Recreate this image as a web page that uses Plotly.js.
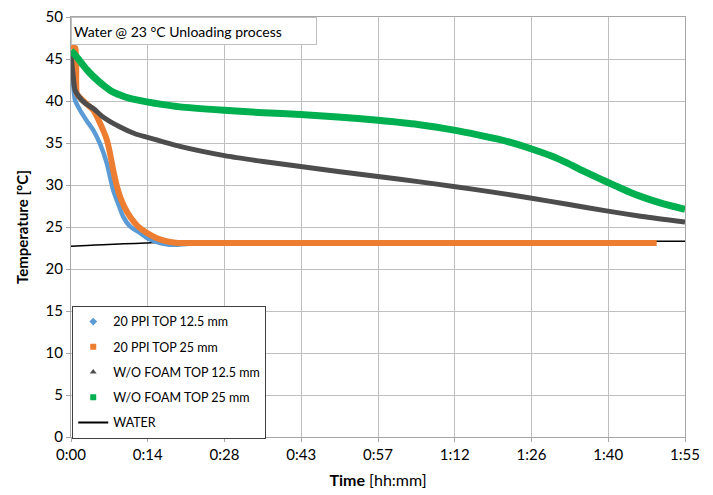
<!DOCTYPE html>
<html><head><meta charset="utf-8">
<script src="https://cdn.plot.ly/plotly-3.0.1.min.js"></script>
<style>html,body{margin:0;padding:0;background:#fff}#chart{width:713px;height:495px}</style>
</head><body><div id="chart"></div>
<script>
// Time in minutes, temperature in °C
const blueT = [0, 0.3, 0.75, 1.7, 3, 4.2, 5.5, 6.7, 7.9, 9, 9.8, 11, 12.9, 14.5, 16.7, 18.5, 20, 22, 25];
const blueY = [46, 43, 40.1, 38.9, 37.6, 36.5, 34.8, 32.6, 29.4, 27.5, 26.2, 25.1, 24.3, 23.6, 23.1, 22.9, 22.9, 23.0, 23.0];

const orangeT = [0, 0.8, 1.1, 2, 3, 4.2, 5.4, 6.7, 7.3, 7.9, 8.5, 9.2, 10, 11.1, 12.5, 14.2, 16, 17.9, 20, 25, 40, 60, 80, 100, 109.7];
const orangeY = [46.5, 46.3, 40.9, 40.2, 39.6, 38.9, 37.4, 35.4, 33.8, 31.8, 30.1, 28.6, 27.4, 26.2, 25.1, 24.3, 23.7, 23.3, 23.1, 23.1, 23.1, 23.1, 23.1, 23.1, 23.1];

const grayT = [0, 0.4, 0.75, 1.5, 2.5, 4.2, 6, 9.2, 12, 14.2, 20.4, 28.75, 36, 43, 50, 57.5, 65, 72, 79, 86, 93, 100, 107, 115];
const grayY = [45.5, 43, 41.3, 40.5, 39.8, 39.1, 38.1, 36.9, 36.1, 35.7, 34.6, 33.5, 32.8, 32.2, 31.6, 31.0, 30.4, 29.8, 29.15, 28.45, 27.7, 26.95, 26.25, 25.6];

const greenT = [0, 1, 2, 3, 4.2, 6, 7.5, 9.2, 11, 14.2, 17, 20.4, 28.75, 36, 43, 50, 57.5, 65, 72, 76, 80, 83, 86, 90, 93, 96, 99, 102, 105, 108, 111, 115];
const greenY = [46, 45.3, 44.5, 43.7, 42.9, 41.9, 41.2, 40.7, 40.3, 39.9, 39.6, 39.3, 38.9, 38.6, 38.4, 38.1, 37.7, 37.2, 36.5, 36.0, 35.45, 34.95, 34.35, 33.45, 32.6, 31.65, 30.75, 29.9, 29.05, 28.35, 27.75, 27.1];

const waterT = [0, 3, 6, 10, 14, 18, 20, 30, 50, 70, 90, 115];
const waterY = [22.7, 22.8, 22.9, 23.0, 23.1, 23.2, 23.2, 23.2, 23.3, 23.3, 23.3, 23.3];

const tickVals = [0, 14.375, 28.75, 43.125, 57.5, 71.875, 86.25, 100.625, 115];
const tickText = ["0:00", "0:14", "0:28", "0:43", "0:57", "1:12", "1:26", "1:40", "1:55"];

const seriesNames = ["20 PPI TOP 12.5 mm", "20 PPI TOP 25 mm", "W/O FOAM TOP 12.5 mm", "W/O FOAM TOP 25 mm", "WATER"];

const C = {blue:"#5b9bd5", orange:"#ed7d31", gray:"#4d4d4d", green:"#00b050", water:"#000000"};
const SM = 0.6;

const data = [
  {x: waterT, y: waterY, mode:"lines", line:{color:C.water, width:1.5, shape:"spline", smoothing:SM}, showlegend:false},
  {x: blueT, y: blueY, mode:"lines", line:{color:C.blue, width:4.5, shape:"spline", smoothing:SM}, showlegend:false},
  {x: orangeT, y: orangeY, mode:"lines", line:{color:C.orange, width:6, shape:"spline", smoothing:SM}, showlegend:false},
  {x: grayT, y: grayY, mode:"lines", line:{color:C.gray, width:5, shape:"spline", smoothing:SM}, showlegend:false},
  {x: greenT, y: greenY, mode:"lines", line:{color:C.green, width:7, shape:"spline", smoothing:SM}, showlegend:false},
  // legend entries
  {x:[null], y:[null], name:seriesNames[0], mode:"markers", marker:{symbol:"diamond", size:6, color:C.blue}, legendgroup:"a"},
  {x:[null], y:[null], name:seriesNames[1], mode:"markers", marker:{symbol:"square", size:6, color:C.orange}, legendgroup:"b"},
  {x:[null], y:[null], name:seriesNames[2], mode:"markers", marker:{symbol:"triangle-up", size:6, color:C.gray}, legendgroup:"c"},
  {x:[null], y:[null], name:seriesNames[3], mode:"markers", marker:{symbol:"square", size:6, color:C.green}, legendgroup:"d"},
  {x:[null], y:[null], name:seriesNames[4], mode:"lines", line:{color:C.water, width:2}, legendgroup:"e"}
];

const font = {family:"Lato, 'Open Sans', sans-serif", color:"#000"};

const layout = {
  width:713, height:495,
  margin:{l:71, r:28, t:17, b:58, pad:0},
  paper_bgcolor:"#fff", plot_bgcolor:"#fff",
  font: Object.assign({size:14}, font),
  showlegend:true,
  legend:{x:0.002, y:0.312, xanchor:"left", yanchor:"top", bgcolor:"#fff",
    bordercolor:"#404040", borderwidth:1, font:Object.assign({size:12.5}, font),
    tracegroupgap:6, itemwidth:30},
  xaxis:{range:[0,115], tickvals:tickVals, ticktext:tickText, showgrid:true, gridcolor:"#bfbfbf", gridwidth:1,
    showline:true, linecolor:"#a6a6a6", linewidth:1, mirror:true, ticks:"outside", ticklen:4, tickcolor:"#a6a6a6",
    zeroline:false, tickfont:Object.assign({size:15}, font),
    title:{text:"<b>Time</b> [hh:mm]", font:Object.assign({size:16}, font), standoff:12}},
  yaxis:{range:[0,50], dtick:5, showgrid:true, gridcolor:"#bfbfbf", gridwidth:1,
    showline:true, linecolor:"#a6a6a6", linewidth:1, mirror:true, ticks:"outside", ticklen:4, tickcolor:"#a6a6a6",
    zeroline:false, tickfont:Object.assign({size:15}, font),
    title:{text:"<b>Temperature [°C]</b>", font:Object.assign({size:15}, font), standoff:13}},
  annotations:[{xref:"paper", yref:"paper", x:0, y:1, xanchor:"left", yanchor:"top",
    text:"Water @ 23 °C Unloading process", showarrow:false, align:"left",
    width:240, height:22, bgcolor:"#fff", bordercolor:"#bfbfbf", borderwidth:1, borderpad:2,
    font:Object.assign({size:14}, font)}]
};

Plotly.newPlot("chart", data, layout, {displayModeBar:false, staticPlot:true});
</script></body></html>
